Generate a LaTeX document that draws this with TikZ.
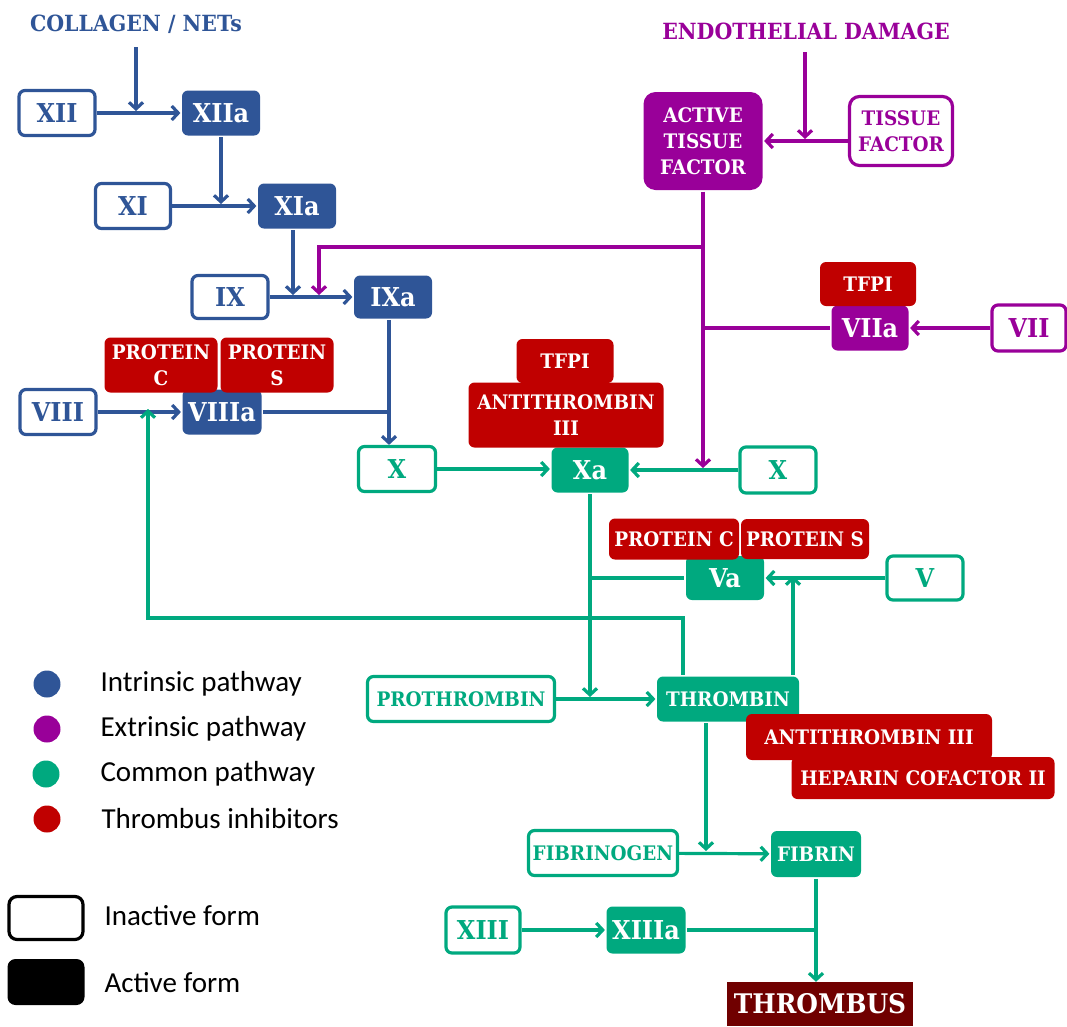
\documentclass[tikz,border=0pt]{standalone}
\usepackage{fontspec}
\setmainfont{DejaVu Serif}
\newfontfamily\slab[FakeStretch=0.92]{DejaVu Serif}
\newfontfamily\legfont{Carlito}
\usetikzlibrary{arrows.meta}
\definecolor{cblue}{HTML}{2F5597}
\definecolor{cpurp}{HTML}{990099}
\definecolor{cgreen}{HTML}{00A97F}
\definecolor{cred}{HTML}{C00000}
\definecolor{cthr}{HTML}{700000}
\newcommand\fbig{\slab\bfseries\fontsize{26pt}{30pt}\selectfont}
\newcommand\fmid{\slab\bfseries\fontsize{20pt}{26pt}\selectfont}
\newcommand\fhead{\slab\bfseries\fontsize{22.3pt}{26pt}\selectfont}
\newcommand\flegend{\legfont\fontsize{29pt}{34pt}\selectfont}
\tikzset{
  base/.style={rounded corners=6pt, line width=3.2pt, inner sep=0pt, align=center},
  inact/.style={base, draw=#1, fill=white, text=#1},
  act/.style={base, fill=#1, text=white},
  inh/.style={base, fill=cred, text=white, font=\fmid},
  sz/.style 2 args={minimum width=#1pt, minimum height=#2pt},
  conn/.style={line width=3.2pt, draw=#1},
  arr/.style={conn=#1, -{Straight Barb[length=6.5pt,width=14pt]}},
}
\begin{document}
\begin{tikzpicture}[x=1pt,y=-1pt]
\useasboundingbox (0,0) rectangle (1067,1026);

% headers
\node[text=cblue, font=\fhead] (COL) at (136,24) {COLLAGEN / NETs};
\node[text=cpurp, font=\fhead] (END) at (806,31) {ENDOTHELIAL DAMAGE};

% intrinsic
\node[inact=cblue, sz={76}{45}, font=\fbig] (XII) at (57,113) {XII};
\node[act=cblue, sz={78}{45}, font=\fbig] (XIIa) at (221,113) {XIIa};
\node[inact=cblue, sz={75}{45}, font=\fbig] (XI) at (133,206) {XI};
\node[act=cblue, sz={78}{45}, font=\fbig] (XIa) at (297,206) {XIa};
\node[inact=cblue, sz={76}{43}, font=\fbig] (IX) at (230,297) {IX};
\node[act=cblue, sz={78}{43}, font=\fbig] (IXa) at (393,297) {IXa};
\node[inact=cblue, sz={76}{45}, font=\fbig] (VIII) at (58,412) {VIII};
\node[act=cblue, sz={79}{45}, font=\fbig] (VIIIa) at (222,412) {VIIIa};
\node[inh, sz={113}{55}] (PC1) at (161,365) {PROTEIN\\C};
\node[inh, sz={113}{55}] (PS1) at (277,365) {PROTEIN\\S};

% extrinsic
\node[act=cpurp, sz={119}{98}, rounded corners=12pt, font=\fmid] (ATF) at (703,141) {ACTIVE\\TISSUE\\FACTOR};
\node[inact=cpurp, sz={103}{69}, rounded corners=10pt, font=\fmid] (TF) at (901,131) {TISSUE\\FACTOR};
\node[act=cpurp, sz={77}{45}, font=\fbig] (VIIa) at (870,328) {VIIa};
\node[inh, sz={96}{44}] (TFPI2) at (868,284) {TFPI};
\node[inact=cpurp, sz={74}{46}, font=\fbig] (VII) at (1029,328) {VII};

% common
\node[inact=cgreen, sz={77}{45}, font=\fbig] (X1) at (397,469) {X};
\node[act=cgreen, sz={77}{45}, font=\fbig] (Xa) at (590,470) {Xa};
\node[inact=cgreen, sz={76}{46}, font=\fbig] (X2) at (778,470) {X};
\node[inh, sz={97}{44}] (TFPI1) at (565,361) {TFPI};
\node[inh, sz={195}{65}] (AT1) at (566,415) {ANTITHROMBIN\\III};
\node[act=cgreen, sz={78}{44}, font=\fbig] (Va) at (725,578) {Va};
\node[inh, sz={130}{41}] (PC2) at (674,539) {PROTEIN C};
\node[inh, sz={128}{40}] (PS2) at (805,539) {PROTEIN S};
\node[inact=cgreen, sz={76}{44}, font=\fbig] (V) at (925,578) {V};
\node[inact=cgreen, sz={187}{45}, font=\fmid] (PRO) at (461,699) {PROTHROMBIN};
\node[act=cgreen, sz={142}{45}, font=\fmid] (THR) at (728,699) {THROMBIN};
\node[inh, sz={246}{46}] (AT2) at (869,737) {ANTITHROMBIN III};
\node[inh, sz={263}{42}] (HEP) at (923,778) {HEPARIN COFACTOR II};
\node[inact=cgreen, sz={149}{45}, font=\fmid] (FBG) at (603,853) {FIBRINOGEN};
\node[act=cgreen, sz={90}{46}, font=\fmid] (FIB) at (816,854) {FIBRIN};
\node[inact=cgreen, sz={74}{46}, font=\fbig] (XIII) at (483,930) {XIII};
\node[act=cgreen, sz={79}{47}, font=\fbig] (XIIIa) at (646,930) {XIIIa};
\node[fill=cthr, text=white, inner sep=0pt, sz={186}{44}, font=\slab\bfseries\fontsize{27pt}{30pt}\selectfont] (THB) at (820,1004) {THROMBUS};

% connectors: intrinsic
\coordinate (colS) at (136,47);
\draw[arr=cblue, shorten >=2pt] (colS) -- (colS |- XII);
\draw[arr=cblue] (XII) -- (XIIa);
\draw[arr=cblue, shorten >=2pt] (XIIa.south) -- (XIIa.south |- XI);
\draw[arr=cblue] (XI) -- (XIa);
\draw[arr=cblue, shorten >=2pt] ([xshift=-4pt]XIa.south) -- ([xshift=-4pt]XIa.south |- IX);
\draw[arr=cblue] (IX) -- (IXa);
\coordinate (pj) at (319,247);
\draw[arr=cpurp, shorten >=2pt] (ATF.south |- pj) -- (pj) -- (pj |- IX);
\draw[arr=cblue] ([xshift=-4pt]IXa.south) -- ([xshift=-4pt]IXa.south |- X1.north);
\draw[conn=cblue] (VIIIa.east) -- ([xshift=-4pt]IXa.south |- VIIIa.east);
\draw[arr=cblue] (VIII) -- (VIIIa);

% connectors: extrinsic
\coordinate (edS) at (805,52);
\draw[arr=cpurp, shorten >=2pt] (edS) -- (edS |- ATF.east);
\draw[arr=cpurp] (TF.west |- ATF.east) -- (ATF.east);
\draw[arr=cpurp, shorten >=2pt] (ATF.south) -- (ATF.south |- Xa);
\draw[conn=cpurp] (VIIa.west) -- (ATF.south |- VIIa.west);
\draw[arr=cpurp] (VII) -- (VIIa);

% connectors: common
\draw[arr=cgreen] (X1) -- (X1 -| Xa.west);
\draw[arr=cgreen] (X2) -- (Xa);
\draw[arr=cgreen, shorten >=2pt] (Xa.south) -- (Xa.south |- THR);
\draw[conn=cgreen] (Xa.south |- Va) -- (Va.west);
\draw[arr=cgreen] (V) -- (Va);
\draw[arr=cgreen, shorten >=-2pt] ([xshift=65pt]THR.north) -- ([xshift=65pt]THR.north |- Va.east);
\coordinate (fb1) at (683,618);
\coordinate (fb2) at (148,618);
\draw[arr=cgreen, shorten >=-3pt] (fb1 |- THR.north) -- (fb1) -- (fb2) -- (fb2 |- VIIIa);
\draw[arr=cgreen] (PRO) -- (THR);
\draw[arr=cgreen, shorten >=2pt] ([xshift=-22pt]THR.south) -- ([xshift=-22pt]THR.south |- FBG);
\draw[arr=cgreen] (FBG) -- (FIB);
\draw[arr=cgreen] (XIII) -- (XIIIa);
\draw[conn=cgreen] (XIIIa.east) -- (FIB.south |- XIIIa.east);
\draw[arr=cgreen] (FIB.south) -- (FIB.south |- THB.north);

% legend
\node[circle, fill=cblue, minimum size=27pt, inner sep=0pt] (L1) at (47,684) {};
\node[circle, fill=cpurp, minimum size=27pt, inner sep=0pt] (L2) at (47,729) {};
\node[circle, fill=cgreen, minimum size=27pt, inner sep=0pt] (L3) at (46,774) {};
\node[circle, fill=cred, minimum size=27pt, inner sep=0pt] (L4) at (47,819) {};
\node[anchor=west, font=\flegend] (L1t) at (97,684) {Intrinsic pathway};
\node[anchor=west, font=\flegend] (L2t) at (97,729) {Extrinsic pathway};
\node[anchor=west, font=\flegend] (L3t) at (97,774) {Common pathway};
\node[anchor=west, font=\flegend] (L4t) at (98,819) {Thrombus inhibitors};
\node[draw=black, line width=3.2pt, rounded corners=8pt, sz={74}{43}] (LI) at (46,918) {};
\node[fill=black, rounded corners=8pt, sz={77}{46}] (LA) at (46,982) {};
\node[anchor=west, font=\flegend] (LIt) at (101,916) {Inactive form};
\node[anchor=west, font=\flegend] (LAt) at (101,983) {Active form};
\end{tikzpicture}
\end{document}
